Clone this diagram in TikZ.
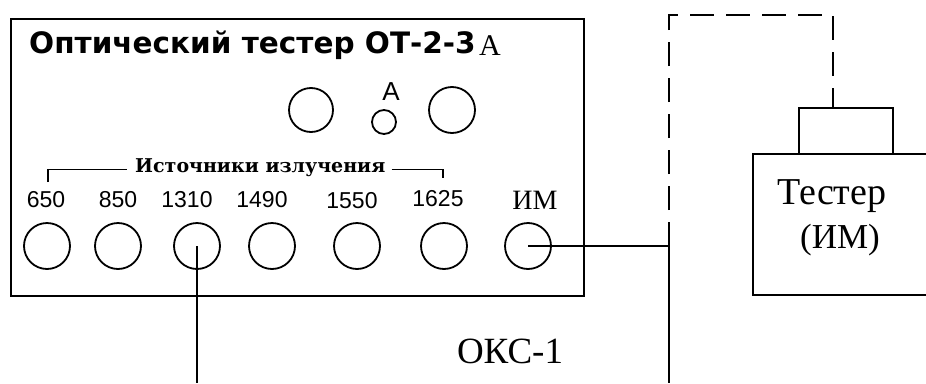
\documentclass[tikz,border=0pt]{standalone}
\usepackage{fontspec}
\setmainfont{Liberation Serif}
\newfontfamily\titlefont{DejaVu Sans}
\newfontfamily\bracketfont{DejaVu Serif}
\newfontfamily\digitfont{Liberation Sans}
\usetikzlibrary{positioning}

\begin{document}
\begin{tikzpicture}[
    x=1pt, y=-1pt,
    panel/.style={draw, line width=2pt, minimum width=573pt, minimum height=277pt, inner sep=0pt},
    port/.style={draw, circle, line width=1.8pt, minimum size=46pt, inner sep=0pt},
    wave/.style={font=\digitfont\fontsize{23}{24}\selectfont, inner sep=0pt},
    serif/.style={font=\fontsize{#1}{#1}\selectfont, inner sep=0pt},
    unit/.style={draw, line width=2pt, inner sep=0pt},
    fiber/.style={line width=2pt},
    brace/.style={line width=1.5pt},
    patch/.style={line width=2pt, dash pattern=on 24pt off 12pt}
]
    \useasboundingbox (0,0) rectangle (926,383);
    \clip (0,0) rectangle (926,383);

    % tester OT-2-3
    \node[panel] (ot) at (297.5,157.5) {};
    \node[anchor=base west, inner sep=0pt, font=\titlefont\bfseries\fontsize{29.5}{32}\selectfont] (title) at (29,53) {Оптический тестер ОТ-2-3};
    \node[serif=30, anchor=base west] (titleA) at (479,55) {A};

    \node[port, minimum size=44pt] (in1) at (311,110) {};
    \node[port, minimum size=24pt] (inA) at (384,122) {};
    \node[port] (in2) at (452,110) {};
    \node[inner sep=0pt, font=\digitfont\fontsize{26}{26}\selectfont] (lblA) at (391,92) {A};

    % sources
    \node[port] (p650) at (47,246) {};
    \node[port] (p850) at (118,246) {};
    \node[port] (p1310) at (197,246) {};
    \node[port] (p1490) at (272,246) {};
    \node[port] (p1550) at (357,246) {};
    \node[port] (p1625) at (444,246) {};
    \node[port] (pim) at (528,246) {};

    \node[wave] (l650) at (46,200) {650};
    \node[wave] (l850) at (118,200) {850};
    \node[wave] (l1310) at (187,200) {1310};
    \node[wave] (l1490) at (262,200) {1490};
    \node[wave] (l1550) at (352,201) {1550};
    \node[wave] (l1625) at (438,199) {1625};
    \node[serif=28] (lim) at (535,200) {ИМ};

    \node[anchor=base west, inner sep=0pt, font=\bracketfont\bfseries\fontsize{19}{21}\selectfont] (src) at (135,172) {Источники излучения};
    \coordinate (bl) at (48,182);
    \coordinate (br) at (443,178);
    \draw[brace] (bl) |- ([xshift=-8pt]src.mid west);
    \draw[brace] ([xshift=6pt]src.mid east) -| (br);

    % external tester
    \node[unit, minimum width=247pt, minimum height=141pt] (tst) at (876.5,224.5) {};
    \node[unit, minimum width=94pt, minimum height=46pt] (cap) at (846,131) {};
    \node[serif=38, anchor=base] (tname) at (832,204) {Тестер};
    \node[serif=35, anchor=base] (tsub) at (840,248) {(ИМ)};

    % fibres
    \coordinate (end1) at (197,383);
    \coordinate (end2) at (669,383);
    \coordinate (loopL) at (669,15);
    \coordinate (loopR) at (833,15);
    \draw[fiber] (p1310.center) -- (end1);
    \draw[fiber] (pim.center) -| (end2);
    \draw[patch] (pim -| loopL) -- (loopL) -- (loopR) -- (loopR |- cap.north);

    \node[serif=37, anchor=base] (oks) at (510,363) {ОКС-1};
\end{tikzpicture}
\end{document}
